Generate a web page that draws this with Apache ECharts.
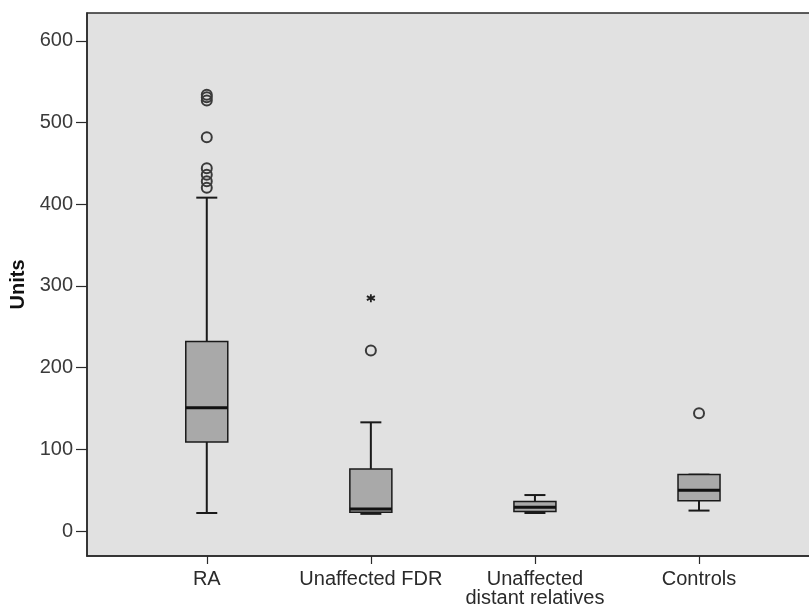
<!DOCTYPE html>
<html><head><meta charset="utf-8">
<script src="https://cdn.jsdelivr.net/npm/echarts@6/dist/echarts.min.js"></script>
<style>html,body{margin:0;padding:0;background:#fff}#c{width:809px;height:610px}</style>
</head><body><div id="c"></div>
<script>
const categories = ['RA', 'Unaffected FDR', 'Unaffected\ndistant relatives', 'Controls'];
const whiskerLow = [22, 21, 22, 25];
const q1 = [109, 23, 24, 37];
const median = [151, 27, 29, 50];
const q3 = [232, 76, 36, 69];
const whiskerHigh = [408, 133, 44, 69];
const circleOutlierCat = [0, 0, 0, 0, 0, 0, 0, 0, 1, 3];
const circleOutlierVal = [420, 428, 436, 444, 482, 527, 531, 534, 221, 144];
const starOutlierCat = [1];
const starOutlierVal = [285];
const yTicks = [0, 100, 200, 300, 400, 500, 600];

const font = '"Liberation Sans", Arial, sans-serif';
const boxData = categories.map((c, i) => [i, whiskerLow[i], q1[i], median[i], q3[i], whiskerHigh[i]]);
const circles = circleOutlierCat.map((c, i) => [c, circleOutlierVal[i]]);
const stars = starOutlierCat.map((c, i) => [c, starOutlierVal[i]]);

const chart = echarts.init(document.getElementById('c'), null, {renderer: 'canvas'});
chart.setOption({
  animation: false,
  backgroundColor: '#ffffff',
  grid: {left: 87, top: 13, width: 740, height: 543, outerBoundsMode: 'none', containLabel: false,
         show: true, backgroundColor: '#e1e1e1', borderColor: '#2a2a2a', borderWidth: 1.5},
  xAxis: {
    type: 'value', min: -0.73, max: 3.78,
    splitLine: {show: false},
    axisLine: {show: true, onZero: false, lineStyle: {color: '#2a2a2a', width: 1.5}},
    axisTick: {show: true, customValues: [0, 1, 2, 3], length: 8, lineStyle: {color: '#2a2a2a', width: 1.2}},
    axisLabel: {customValues: [0, 1, 2, 3], formatter: v => categories[Math.round(v)], color: '#2a2a2a', fontSize: 20, fontFamily: font, margin: 14, lineHeight: 19}
  },
  yAxis: {
    type: 'value', min: -30.6, max: 634,
    name: 'Units', nameLocation: 'middle', nameGap: 56, nameRotate: 90,
    nameTextStyle: {fontSize: 20, fontWeight: 'bold', color: '#111', fontFamily: font},
    splitLine: {show: false},
    axisLine: {show: true, onZero: false, lineStyle: {color: '#2a2a2a', width: 1.5}},
    axisTick: {show: true, customValues: yTicks, length: 11, lineStyle: {color: '#2a2a2a', width: 1.2}},
    axisLabel: {customValues: yTicks, color: '#3a3a3a', fontSize: 20, fontFamily: font, margin: 14}
  },
  series: [
    {
      type: 'custom',
      data: boxData,
      renderItem: function (params, api) {
        const x = api.value(0);
        const lo = api.coord([x, api.value(1)]);
        const b1 = api.coord([x, api.value(2)]);
        const md = api.coord([x, api.value(3)]);
        const b3 = api.coord([x, api.value(4)]);
        const hi = api.coord([x, api.value(5)]);
        const w = api.size([0.256, 0])[0];
        const cx = lo[0];
        const stroke = {stroke: '#1a1a1a', lineWidth: 2};
        return {
          type: 'group',
          children: [
            {type: 'line', shape: {x1: cx, y1: b3[1], x2: cx, y2: hi[1]}, style: stroke},
            {type: 'line', shape: {x1: cx, y1: b1[1], x2: cx, y2: lo[1]}, style: stroke},
            {type: 'line', shape: {x1: cx - w / 4, y1: hi[1], x2: cx + w / 4, y2: hi[1]}, style: stroke},
            {type: 'line', shape: {x1: cx - w / 4, y1: lo[1], x2: cx + w / 4, y2: lo[1]}, style: stroke},
            {type: 'rect', shape: {x: cx - w / 2, y: b3[1], width: w, height: b1[1] - b3[1]}, style: {fill: '#a9a9a9', stroke: '#1a1a1a', lineWidth: 1.5}},
            {type: 'line', shape: {x1: cx - w / 2, y1: md[1], x2: cx + w / 2, y2: md[1]}, style: {stroke: '#111', lineWidth: 3}}
          ]
        };
      }
    },
    {
      type: 'scatter', data: circles, symbol: 'circle', symbolSize: 10,
      itemStyle: {color: 'rgba(0,0,0,0)', borderColor: '#3a3a3a', borderWidth: 2, opacity: 1}
    },
    {
      type: 'scatter', data: stars,
      symbol: 'path://M5,0 L5,10 M0.7,2.5 L9.3,7.5 M0.7,7.5 L9.3,2.5', symbolSize: 8,
      itemStyle: {color: 'rgba(0,0,0,0)', borderColor: '#222', borderWidth: 1.8, opacity: 1}
    }
  ]
});
</script></body></html>
